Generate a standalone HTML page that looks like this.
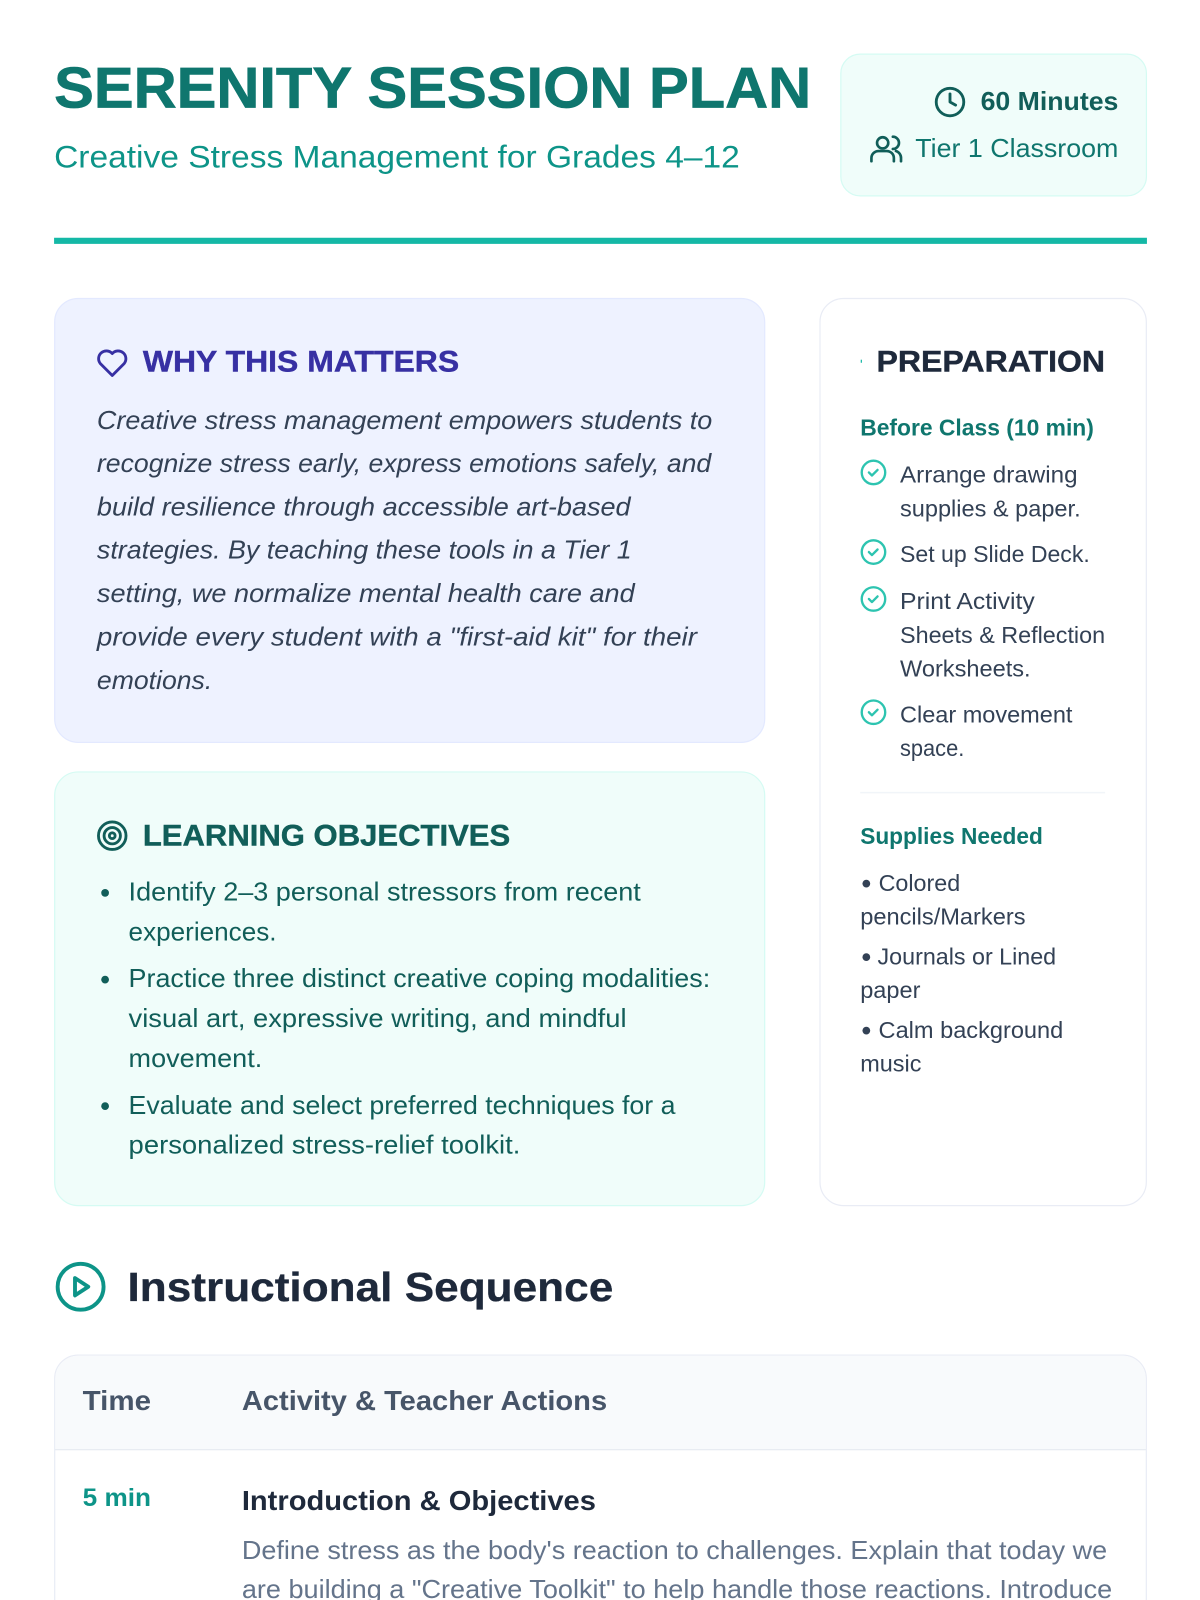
<!DOCTYPE html>
<html lang="en"><head><meta charset="utf-8"><title>Serenity Session Plan</title>
<style>
html,body{margin:0;padding:0;background:#fff;width:1200px;height:1600px;overflow:hidden}
svg{display:block}
text{font-family:"Liberation Sans",sans-serif;white-space:pre}
.b{font-weight:700}
.i{font-style:italic}
.ic{fill:none;stroke-linecap:round;stroke-linejoin:round}
</style></head><body>
<svg xmlns="http://www.w3.org/2000/svg" width="1200" height="1600" viewBox="0 0 1176 1568">
<rect width="1176" height="1568" fill="#fff"/>

<!-- Header -->
<text class="b" x="53" y="105.500" font-size="56.500" fill="#0f766e" stroke="#0f766e" stroke-width="0.700" textLength="742" lengthAdjust="spacingAndGlyphs">SERENITY SESSION PLAN</text>
<text x="53" y="164" font-size="31" fill="#0d9488" textLength="672" lengthAdjust="spacingAndGlyphs">Creative Stress Management for Grades 4–12</text>
<rect x="824" y="53" width="299.500" height="139" rx="19" fill="#f0fdfa" stroke="#d5fbf3" stroke-width="1.200"/>
<g class="ic" stroke="#115e59" stroke-width="2.800"><circle cx="931" cy="100" r="13.500"/><path d="M931 92v8l5.500 3"/></g>
<text class="b" x="961" y="108" font-size="25" fill="#115e59" textLength="135" lengthAdjust="spacingAndGlyphs">60 Minutes</text>
<g class="ic" stroke="#115e59" stroke-width="2.600"><circle cx="865" cy="140" r="5.500"/><path d="M854 158v-3a7 7 0 0 1 7-7h8a7 7 0 0 1 7 7v3"/><path d="M875 134a6 6 0 0 1 0 12M878 148a7 7 0 0 1 5 7v3"/></g>
<text x="897" y="154" font-size="25" fill="#0f766e" textLength="199" lengthAdjust="spacingAndGlyphs">Tier 1 Classroom</text>
<rect x="53" y="233" width="1071" height="6" fill="#14b8a6"/>

<!-- Why card -->
<rect x="53.600" y="292.500" width="695.800" height="435" rx="23" fill="#eef2ff" stroke="#e3e9ff" stroke-width="1.200"/>
<path class="ic" stroke="#3730a3" stroke-width="2.800" d="M110 368l-11.500-11.500a7.500 7.500 0 0 1 11.500-10 7.500 7.500 0 0 1 11.500 10z"/>
<text class="b" x="140" y="364" font-size="29" fill="#3730a3" stroke="#3730a3" stroke-width="0.400" textLength="310" lengthAdjust="spacingAndGlyphs">WHY THIS MATTERS</text>
<g font-size="25.500" fill="#334155">
<text class="i" x="95" y="420.500" textLength="603" lengthAdjust="spacingAndGlyphs">Creative stress management empowers students to</text>
<text class="i" x="95" y="462.500" textLength="602" lengthAdjust="spacingAndGlyphs">recognize stress early, express emotions safely, and</text>
<text class="i" x="95" y="505" textLength="523" lengthAdjust="spacingAndGlyphs">build resilience through accessible art-based</text>
<text class="i" x="95" y="547.500" textLength="524" lengthAdjust="spacingAndGlyphs">strategies. By teaching these tools in a Tier 1</text>
<text class="i" x="95" y="590" textLength="527" lengthAdjust="spacingAndGlyphs">setting, we normalize mental health care and</text>
<text class="i" x="95" y="632.500" textLength="588" lengthAdjust="spacingAndGlyphs">provide every student with a "first-aid kit" for their</text>
<text class="i" x="95" y="675" textLength="113" lengthAdjust="spacingAndGlyphs">emotions.</text>
</g>

<!-- Objectives card -->
<rect x="53.600" y="756.500" width="695.800" height="425" rx="23" fill="#f0fdfa" stroke="#d5fbf3" stroke-width="1.200"/>
<g class="ic" stroke="#115e59" stroke-width="2.800"><circle cx="110" cy="819" r="13.500"/><circle cx="110" cy="819" r="8"/><circle cx="110" cy="819" r="2.800"/></g>
<text class="b" x="140" y="828.500" font-size="29" fill="#115e59" stroke="#115e59" stroke-width="0.400" textLength="360" lengthAdjust="spacingAndGlyphs">LEARNING OBJECTIVES</text>
<g fill="#115e59"><circle cx="103" cy="875" r="3.800"/><circle cx="103" cy="960" r="3.800"/><circle cx="103" cy="1084" r="3.800"/></g>
<g font-size="25.500" fill="#115e59">
<text x="126" y="882.500" textLength="502" lengthAdjust="spacingAndGlyphs">Identify 2–3 personal stressors from recent</text>
<text x="126" y="921.500" textLength="145" lengthAdjust="spacingAndGlyphs">experiences.</text>
<text x="126" y="967.500" textLength="570" lengthAdjust="spacingAndGlyphs">Practice three distinct creative coping modalities:</text>
<text x="126" y="1006.500" textLength="488" lengthAdjust="spacingAndGlyphs">visual art, expressive writing, and mindful</text>
<text x="126" y="1045.500" textLength="131" lengthAdjust="spacingAndGlyphs">movement.</text>
<text x="126" y="1091.500" textLength="536" lengthAdjust="spacingAndGlyphs">Evaluate and select preferred techniques for a</text>
<text x="126" y="1130.500" textLength="384" lengthAdjust="spacingAndGlyphs">personalized stress-relief toolkit.</text>
</g>

<!-- Preparation card -->
<rect x="803.600" y="292.500" width="319.800" height="889" rx="23" fill="#fff" stroke="#e9ecf5" stroke-width="1.200"/>
<rect x="843.500" y="352.500" width="1.200" height="3" fill="#14b8a6"/>
<text class="b" x="859" y="364" font-size="29" fill="#1e293b" stroke="#1e293b" stroke-width="0.400" textLength="224" lengthAdjust="spacingAndGlyphs">PREPARATION</text>
<text class="b" x="843" y="427" font-size="22.500" fill="#0f766e" textLength="229" lengthAdjust="spacingAndGlyphs">Before Class (10 min)</text>
<g class="ic" stroke="#2dc4b0" stroke-width="2.300">
<circle cx="856" cy="463" r="11.500"/><path d="M851.500 463l3 3 5.500-5.500"/>
<circle cx="856" cy="541" r="11.500"/><path d="M851.500 541l3 3 5.500-5.500"/>
<circle cx="856" cy="587" r="11.500"/><path d="M851.500 587l3 3 5.500-5.500"/>
<circle cx="856" cy="698" r="11.500"/><path d="M851.500 698l3 3 5.500-5.500"/>
</g>
<g font-size="23" fill="#334155">
<text x="882" y="473" textLength="174" lengthAdjust="spacingAndGlyphs">Arrange drawing</text>
<text x="882" y="506" textLength="177" lengthAdjust="spacingAndGlyphs">supplies &amp; paper.</text>
<text x="882" y="551" textLength="186" lengthAdjust="spacingAndGlyphs">Set up Slide Deck.</text>
<text x="882" y="597" textLength="132" lengthAdjust="spacingAndGlyphs">Print Activity</text>
<text x="882" y="630" textLength="201" lengthAdjust="spacingAndGlyphs">Sheets &amp; Reflection</text>
<text x="882" y="663" textLength="128" lengthAdjust="spacingAndGlyphs">Worksheets.</text>
<text x="882" y="708" textLength="169" lengthAdjust="spacingAndGlyphs">Clear movement</text>
<text x="882" y="741" textLength="63" lengthAdjust="spacingAndGlyphs">space.</text>
</g>
<rect x="843" y="776" width="240" height="1.500" fill="#f1f5f9"/>
<text class="b" x="843" y="827" font-size="22.500" fill="#0f766e" textLength="179" lengthAdjust="spacingAndGlyphs">Supplies Needed</text>
<g font-size="23" fill="#334155">
<circle cx="849" cy="866" r="3.800"/>
<text x="861" y="873" textLength="80" lengthAdjust="spacingAndGlyphs">Colored</text>
<text x="843" y="906" textLength="162" lengthAdjust="spacingAndGlyphs">pencils/Markers</text>
<circle cx="849" cy="938" r="3.800"/>
<text x="860" y="945" textLength="175" lengthAdjust="spacingAndGlyphs">Journals or Lined</text>
<text x="843" y="978" textLength="59" lengthAdjust="spacingAndGlyphs">paper</text>
<circle cx="849" cy="1010" r="3.800"/>
<text x="861" y="1017" textLength="181" lengthAdjust="spacingAndGlyphs">Calm background</text>
<text x="843" y="1050" textLength="60" lengthAdjust="spacingAndGlyphs">music</text>
</g>

<!-- Instructional Sequence -->
<g class="ic" stroke="#0d9488" stroke-width="3.800"><circle cx="79" cy="1261" r="22.500"/><path d="M73.500 1252.500l13 8.500-13 8.500z"/></g>
<text class="b" x="125" y="1275" font-size="40" fill="#1e293b" stroke="#1e293b" stroke-width="0.300" textLength="476" lengthAdjust="spacingAndGlyphs">Instructional Sequence</text>
<path d="M53.600 1568V1351a23 23 0 0 1 23-23H1100.400a23 23 0 0 1 23 23V1568" fill="#fff" stroke="#e9ecf5" stroke-width="1.200"/>
<path d="M54.200 1420V1351a22.400 22.400 0 0 1 22.400-22.400H1100.400a22.400 22.400 0 0 1 22.400 22.400V1420z" fill="#f8fafc"/>
<rect x="54" y="1420" width="1069" height="1.300" fill="#e8ecf2"/>
<text class="b" x="81" y="1382" font-size="27" fill="#475569" textLength="67" lengthAdjust="spacingAndGlyphs">Time</text>
<text class="b" x="237" y="1382" font-size="27" fill="#475569" textLength="358" lengthAdjust="spacingAndGlyphs">Activity &amp; Teacher Actions</text>
<text class="b" x="81" y="1476" font-size="24.500" fill="#0d9488" textLength="67" lengthAdjust="spacingAndGlyphs">5 min</text>
<text class="b" x="237" y="1480" font-size="27" fill="#1e293b" textLength="347" lengthAdjust="spacingAndGlyphs">Introduction &amp; Objectives</text>
<text x="237" y="1528" font-size="25.500" fill="#64748b" textLength="848" lengthAdjust="spacingAndGlyphs">Define stress as the body's reaction to challenges. Explain that today we</text>
<text x="237" y="1566" font-size="25.500" fill="#64748b" textLength="853" lengthAdjust="spacingAndGlyphs">are building a "Creative Toolkit" to help handle those reactions. Introduce</text>
</svg>
</body></html>
